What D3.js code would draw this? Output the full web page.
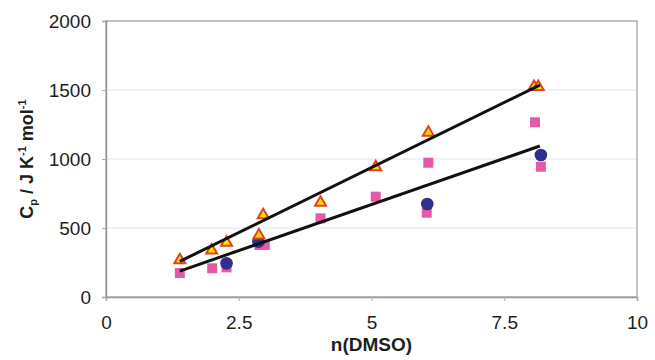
<!DOCTYPE html>
<html>
<head>
<meta charset="utf-8">
<script src="https://cdn.jsdelivr.net/npm/d3@7"></script>
<style>
  html, body { margin: 0; padding: 0; background: #fff; }
  svg { display: block; font-family: "Liberation Sans", Arial, sans-serif; }
  .tick text { font-size: 19px; fill: #1e1e1e; }
  .axis-title { font-size: 19px; font-weight: bold; fill: #1e1e1e; }
</style>
</head>
<body>
<div id="chart"></div>
<script>
/* Cp vs n(DMSO) — three series with two linear trend lines */

// data
const triX = [1.39, 1.99, 2.27, 2.88, 2.96, 4.04, 5.08, 6.07, 8.06, 8.14];
const triY = [275, 346, 401, 454, 601, 691, 949, 1198, 1530, 1530];

const sqX = [1.39, 2.0, 2.27, 2.89, 2.99, 4.04, 5.08, 6.04, 6.07, 8.08, 8.19];
const sqY = [174, 208, 215, 377, 377, 570, 727, 611, 973, 1266, 944];

const circX = [2.27, 2.87, 6.05, 8.19];
const circY = [244, 401, 674, 1029];

// trend line end points
const upperLineX = [1.39, 8.17];
const upperLineY = [258, 1536];
const lowerLineX = [1.39, 8.17];
const lowerLineY = [188, 1094];

const xTicks = [0, 2.5, 5, 7.5, 10];
const yTicks = [0, 500, 1000, 1500, 2000];

const W = 655, H = 360;
const M = { left: 106, right: 18, top: 21, bottom: 63 };

const svg = d3.select("#chart").append("svg")
  .attr("width", W).attr("height", H);

const x = d3.scaleLinear().domain([0, 10]).range([M.left, W - M.right]);
const y = d3.scaleLinear().domain([0, 2000]).range([H - M.bottom, M.top]);

const zip = (a, b) => a.map((v, i) => [v, b[i]]);

/* grid */
svg.append("g").selectAll("line")
  .data(yTicks.slice(1, -1)).join("line")
  .attr("x1", x(0)).attr("x2", x(10))
  .attr("y1", d => y(d)).attr("y2", d => y(d))
  .attr("stroke", "#dfe6ec").attr("stroke-width", 1);

/* frame */
svg.append("rect")
  .attr("x", x(0)).attr("y", y(2000))
  .attr("width", x(10) - x(0)).attr("height", y(0) - y(2000))
  .attr("fill", "none").attr("stroke", "#b0b0b0").attr("stroke-width", 1.5);

/* axes */
const xAxis = svg.append("g")
  .attr("transform", `translate(0,${y(0)})`)
  .call(d3.axisBottom(x).tickValues(xTicks).tickSize(4).tickPadding(15)
    .tickFormat(d3.format("")));
const yAxis = svg.append("g")
  .attr("transform", `translate(${x(0)},0)`)
  .call(d3.axisLeft(y).tickValues(yTicks).tickSize(4).tickPadding(11)
    .tickFormat(d3.format("d")));
[xAxis, yAxis].forEach(g => {
  g.select(".domain").attr("stroke", "#999").attr("stroke-width", 1.5);
  g.selectAll(".tick line").attr("stroke", "#aaa");
});

/* axis titles */
svg.append("text").attr("class", "axis-title")
  .attr("x", x(5)).attr("y", 351)
  .attr("text-anchor", "middle").text("n(DMSO)");

const yt = svg.append("text").attr("class", "axis-title")
  .attr("transform", `translate(33,${(y(0) + y(2000)) / 2}) rotate(-90)`)
  .attr("text-anchor", "middle")
  .style("font-size", "18px");
yt.append("tspan").text("C");
yt.append("tspan").attr("dy", 4).style("font-size", "11px").text("p");
yt.append("tspan").attr("dy", -4).text(" / J K");
yt.append("tspan").attr("dy", -7).style("font-size", "11px").text("-1");
yt.append("tspan").attr("dy", 7).text(" mol");
yt.append("tspan").attr("dy", -7).style("font-size", "11px").text("-1");

/* markers */
svg.append("g").selectAll("rect")
  .data(zip(sqX, sqY)).join("rect")
  .attr("x", d => x(d[0]) - 5).attr("y", d => y(d[1]) - 5)
  .attr("width", 10).attr("height", 10)
  .attr("fill", "#e45aa6");

svg.append("g").selectAll("circle")
  .data(zip(circX, circY)).join("circle")
  .attr("cx", d => x(d[0])).attr("cy", d => y(d[1]))
  .attr("r", 6.3).attr("fill", "#2f2f8e");

svg.append("g").selectAll("path")
  .data(zip(triX, triY)).join("path")
  .attr("transform", d => `translate(${x(d[0])},${y(d[1]) + 1})`)
  .attr("d", d3.symbol().type(d3.symbolTriangle).size(52)())
  .attr("fill", "#ffe100").attr("stroke", "#e0451a").attr("stroke-width", 2);

/* trend lines */
const line = d3.line().x(d => x(d[0])).y(d => y(d[1]));
[[upperLineX, upperLineY], [lowerLineX, lowerLineY]].forEach(([lx, ly]) => {
  svg.append("path")
    .datum(zip(lx, ly))
    .attr("d", line)
    .attr("fill", "none").attr("stroke", "#111").attr("stroke-width", 3);
});
</script>
</body>
</html>
